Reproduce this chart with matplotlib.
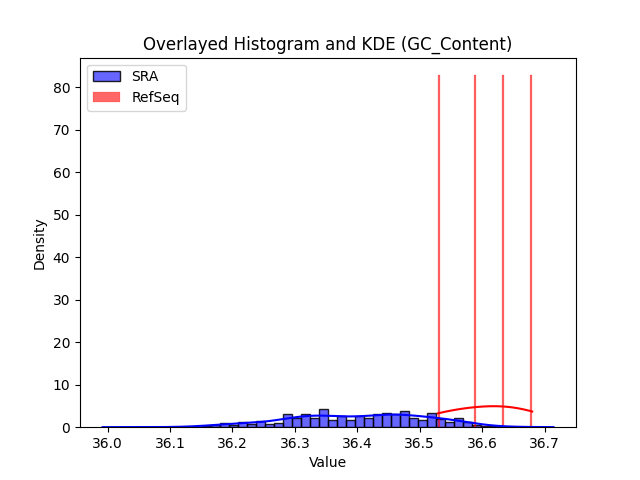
import numpy as np
import matplotlib
matplotlib.use("Agg")
import matplotlib.pyplot as plt

# SRA: 50-bin histogram (density)
sra_min = 35.992
sra_max = 36.714
sra_n = 450
sra_density = [
    0.07, 0.0, 0.0, 0.0, 0.0, 0.0, 0.0, 0.07, 0.0, 0.14,
    0.14, 0.23, 0.40, 1.10, 0.63, 1.30, 0.70, 1.45, 0.70, 1.10,
    3.05, 2.27, 3.20, 2.27, 4.35, 1.80, 2.66, 1.80, 2.66, 2.20,
    3.20, 3.44, 3.00, 3.90, 2.27, 1.80, 3.44, 1.90, 1.33, 2.27,
    1.25, 0.40, 0.30, 0.20, 0.14, 0.07, 0.07, 0.0, 0.0, 0.07,
]

# RefSeq raw values
refseq_values = [36.529, 36.588, 36.633, 36.680]

fig, ax = plt.subplots(figsize=(6.4, 4.8), dpi=100)

# SRA histogram
dens = np.array(sra_density)
edges = np.linspace(sra_min, sra_max, len(dens) + 1)
centers = 0.5 * (edges[:-1] + edges[1:])
ax.hist(centers, bins=edges, weights=dens, facecolor=(0, 0, 1, 0.6),
        edgecolor=(0, 0, 0, 0.85), linewidth=1.0, label="SRA")

# RefSeq histogram
rv = np.array(refseq_values)
ax.hist(rv, bins=50, density=True, facecolor=(1, 0, 0, 0.6),
        edgecolor=(1, 0, 0, 0.35), linewidth=0.3, label="RefSeq")

# SRA KDE (weighted by histogram)
w = dens / dens.sum()
mu = np.sum(w * centers)
sd = np.sqrt(np.sum(w * (centers - mu) ** 2))
bw = sd * sra_n ** (-1 / 5)
xs = np.linspace(sra_min, sra_max, 300)
kde = np.sum(w[None, :] * np.exp(-0.5 * ((xs[:, None] - centers[None, :]) / bw) ** 2), axis=1) / (bw * np.sqrt(2 * np.pi))
area = np.sum(dens * (edges[1] - edges[0]))
ax.plot(xs, kde * area, color="blue", lw=1.5)

# RefSeq KDE
bw_r = rv.std(ddof=1) * len(rv) ** (-1 / 5)
xr = np.linspace(rv.min(), rv.max(), 200)
kr = np.mean(np.exp(-0.5 * ((xr[:, None] - rv[None, :]) / bw_r) ** 2), axis=1) / (bw_r * np.sqrt(2 * np.pi))
ax.plot(xr, kr, color="red", lw=1.5)

ax.set_title("Overlayed Histogram and KDE (GC_Content)")
ax.set_xlabel("Value")
ax.set_ylabel("Density")
ax.legend(loc="upper left")

fig.savefig("out.png", dpi=100)
